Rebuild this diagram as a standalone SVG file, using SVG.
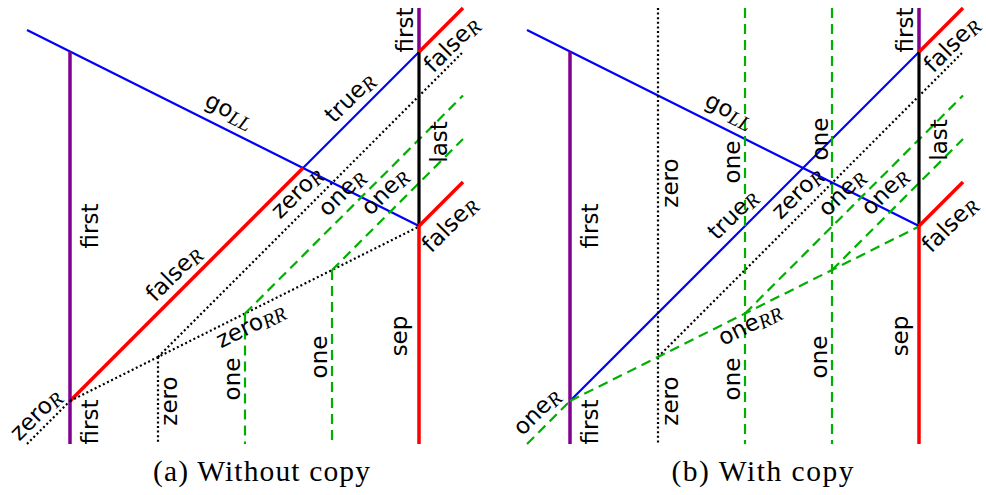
<svg xmlns="http://www.w3.org/2000/svg" width="986" height="495" viewBox="0 0 986 495">
<style>
.bg{fill:#ffffff}
.blue{stroke:#0000ff;stroke-width:2.2;fill:none}
.red{stroke:#ff0000;stroke-width:3.5;fill:none}
.pur{stroke:#800090;stroke-width:3.5;fill:none}
.blk{stroke:#000000;stroke-width:3.2;fill:none}
.dot{stroke:#000000;stroke-width:2.2;fill:none;stroke-dasharray:2 2.6}
.grn{stroke:#00b000;stroke-width:2.2;fill:none;stroke-dasharray:10 6}
.lbl{font-family:"DejaVu Sans",Verdana,sans-serif;font-size:23px;fill:#000;text-anchor:middle}
.sub{font-family:"Liberation Serif","Times New Roman",serif;font-style:italic;font-size:20px}
.cap{font-family:"Liberation Serif","Times New Roman",serif;font-size:29.5px;fill:#000;text-anchor:middle}
</style>
<rect class="bg" x="0" y="0" width="986" height="495"/>

<g id="panel-a">
  <g id="connectors-a">
    <path class="blue" d="M27,30 L419,226"/>
    <path class="blue" d="M303,168 L419,52"/>
    <path class="red" d="M70,401 L303,168"/>
    <path class="pur" d="M70,51.5 V444"/>
    <path class="dot" d="M27,444 L70,401"/>
    <path class="dot" d="M70,401 L419,226.5"/>
    <path class="dot" d="M158,357 L463,52"/>
    <path class="dot" d="M158,357 V444"/>
    <path class="grn" d="M245,313.5 V444"/>
    <path class="grn" d="M245,313.5 L463,95.5"/>
    <path class="grn" d="M332,270 V444"/>
    <path class="grn" d="M332,270 L463,139"/>
    <path class="pur" d="M419,8 V52"/>
    <path class="blk" d="M419,52 V226"/>
    <path class="red" d="M419,226 V444"/>
    <path class="red" d="M419,52 L463,8"/>
    <path class="red" d="M419,226 L463,182"/>
  </g>
  <g id="labels-a">
    <text class="lbl" transform="translate(226,117) rotate(26.57)">go<tspan class="sub" dy="4">LL</tspan></text>
    <text class="lbl" transform="translate(355,103) rotate(-45)">true<tspan class="sub" dy="3">R</tspan></text>
    <text class="lbl" transform="translate(302,198) rotate(-45)">zero<tspan class="sub" dy="3">R</tspan></text>
    <text class="lbl" transform="translate(347,198) rotate(-45)">one<tspan class="sub" dy="3">R</tspan></text>
    <text class="lbl" transform="translate(390,197) rotate(-45)">one<tspan class="sub" dy="3">R</tspan></text>
    <text class="lbl" transform="translate(457,50) rotate(-45)">false<tspan class="sub" dy="3">R</tspan></text>
    <text class="lbl" transform="translate(455,230) rotate(-45)">false<tspan class="sub" dy="3">R</tspan></text>
    <text class="lbl" transform="translate(179,279) rotate(-45)">false<tspan class="sub" dy="3">R</tspan></text>
    <text class="lbl" transform="translate(254,332) rotate(-26.57)">zero<tspan class="sub" dy="3">RR</tspan></text>
    <text class="lbl" transform="translate(41,420) rotate(-45)">zero<tspan class="sub" dy="3">R</tspan></text>
    <text class="lbl" transform="translate(413,30) rotate(-90)">first</text>
    <text class="lbl" transform="translate(447,142) rotate(-90)">last</text>
    <text class="lbl" transform="translate(98,226) rotate(-90)">first</text>
    <text class="lbl" transform="translate(98,422) rotate(-90)">first</text>
    <text class="lbl" transform="translate(177,401) rotate(-90)">zero</text>
    <text class="lbl" transform="translate(240,379) rotate(-90)">one</text>
    <text class="lbl" transform="translate(327,357) rotate(-90)">one</text>
    <text class="lbl" transform="translate(407,336) rotate(-90)">sep</text>
  </g>
  <text class="cap" x="261.5" y="481" textLength="217">(a) Without copy</text>
</g>

<g id="panel-b">
  <g id="connectors-b">
    <path class="blue" d="M527,30 L919,226"/>
    <path class="blue" d="M570,401 L919,52"/>
    <path class="pur" d="M570,51.5 V444"/>
    <path class="dot" d="M658,8 V444"/>
    <path class="dot" d="M658,357 L963,52"/>
    <path class="grn" d="M527,444 L570,401"/>
    <path class="grn" d="M570,401 L919,226.5"/>
    <path class="grn" d="M745,8 V444"/>
    <path class="grn" d="M832,8 V444"/>
    <path class="grn" d="M745,313.5 L963,95.5"/>
    <path class="grn" d="M832,270 L963,139"/>
    <path class="pur" d="M919,8 V52"/>
    <path class="blk" d="M919,52 V226"/>
    <path class="red" d="M919,226 V444"/>
    <path class="red" d="M919,52 L963,8"/>
    <path class="red" d="M919,226 L963,182"/>
  </g>
  <g id="labels-b">
    <text class="lbl" transform="translate(726,117) rotate(26.57)">go<tspan class="sub" dy="4">LL</tspan></text>
    <text class="lbl" transform="translate(738,220) rotate(-45)">true<tspan class="sub" dy="3">R</tspan></text>
    <text class="lbl" transform="translate(802.5,198.5) rotate(-45)">zero<tspan class="sub" dy="3">R</tspan></text>
    <text class="lbl" transform="translate(847,198) rotate(-45)">one<tspan class="sub" dy="3">R</tspan></text>
    <text class="lbl" transform="translate(890,197) rotate(-45)">one<tspan class="sub" dy="3">R</tspan></text>
    <text class="lbl" transform="translate(957,50) rotate(-45)">false<tspan class="sub" dy="3">R</tspan></text>
    <text class="lbl" transform="translate(955,230) rotate(-45)">false<tspan class="sub" dy="3">R</tspan></text>
    <text class="lbl" transform="translate(753,331) rotate(-26.57)">one<tspan class="sub" dy="3">RR</tspan></text>
    <text class="lbl" transform="translate(542,417) rotate(-45)">one<tspan class="sub" dy="3">R</tspan></text>
    <text class="lbl" transform="translate(913,30) rotate(-90)">first</text>
    <text class="lbl" transform="translate(947,140) rotate(-90)">last</text>
    <text class="lbl" transform="translate(598,226) rotate(-90)">first</text>
    <text class="lbl" transform="translate(598,422) rotate(-90)">first</text>
    <text class="lbl" transform="translate(678,183) rotate(-90)">zero</text>
    <text class="lbl" transform="translate(740,162) rotate(-90)">one</text>
    <text class="lbl" transform="translate(828,139) rotate(-90)">one</text>
    <text class="lbl" transform="translate(678,401) rotate(-90)">zero</text>
    <text class="lbl" transform="translate(740,379) rotate(-90)">one</text>
    <text class="lbl" transform="translate(827,357) rotate(-90)">one</text>
    <text class="lbl" transform="translate(908,336) rotate(-90)">sep</text>
  </g>
  <text class="cap" x="762.5" y="481" textLength="182">(b) With copy</text>
</g>
</svg>
